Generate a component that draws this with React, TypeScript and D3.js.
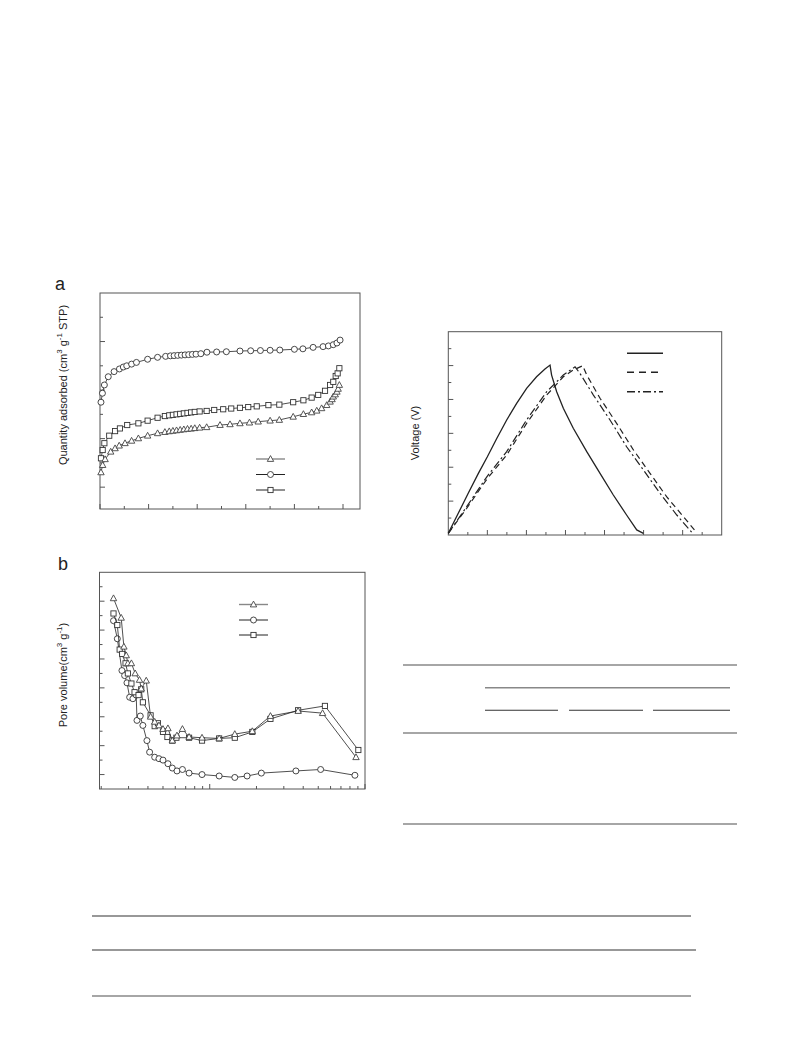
import React from "react";
import * as d3 from "d3";

// ---------- Panel a: N2 isotherms (P/P0, quantity adsorbed) ----------
const isoTriangle: [number, number][] = [
  [0.004, 161], [0.011, 191], [0.021, 215], [0.044, 246], [0.062, 260], [0.079, 271], [0.103, 281],
  [0.13, 291], [0.158, 301], [0.196, 312], [0.237, 322], [0.267, 327], [0.285, 330], [0.3, 332],
  [0.315, 334], [0.33, 336], [0.345, 338], [0.36, 340], [0.375, 341], [0.39, 343], [0.41, 345],
  [0.439, 347], [0.494, 356], [0.535, 359], [0.576, 363], [0.615, 366], [0.651, 370], [0.7, 374],
  [0.738, 377], [0.795, 390], [0.837, 401], [0.871, 408], [0.892, 415], [0.912, 425], [0.933, 438],
  [0.947, 452], [0.955, 462], [0.96, 473], [0.968, 482], [0.975, 493], [0.98, 505], [0.985, 521],
];
const isoCircle: [number, number][] = [
  [0.004, 450], [0.01, 487], [0.018, 521], [0.034, 555], [0.058, 576], [0.08, 587], [0.096, 595],
  [0.11, 600], [0.13, 607], [0.15, 614], [0.196, 627], [0.237, 635], [0.27, 639], [0.29, 641],
  [0.305, 642], [0.32, 643], [0.335, 644], [0.35, 645], [0.365, 646], [0.38, 647], [0.395, 648],
  [0.415, 650], [0.44, 656], [0.48, 657], [0.52, 658], [0.576, 661], [0.62, 662], [0.66, 663],
  [0.7, 664], [0.74, 665], [0.8, 668], [0.835, 670], [0.877, 676], [0.918, 679], [0.94, 682],
  [0.96, 687], [0.975, 694], [0.988, 706],
];
const isoSquare: [number, number][] = [
  [0.004, 219], [0.011, 253], [0.018, 281], [0.038, 312], [0.062, 331], [0.082, 342], [0.112, 356],
  [0.158, 363], [0.196, 374], [0.237, 386], [0.267, 393], [0.285, 396], [0.3, 398], [0.315, 400],
  [0.33, 402], [0.345, 404], [0.36, 406], [0.375, 408], [0.39, 410], [0.41, 412], [0.439, 414],
  [0.47, 418], [0.507, 421], [0.54, 424], [0.576, 427], [0.61, 430], [0.645, 433], [0.693, 438],
  [0.738, 440], [0.795, 450], [0.837, 458], [0.871, 469], [0.898, 480], [0.926, 497], [0.947, 521],
  [0.96, 534], [0.97, 558], [0.978, 569], [0.985, 590],
];
const isoXTicks = [0, 0.1, 0.2, 0.3, 0.4, 0.5, 0.6, 0.7, 0.8, 0.9, 1.0];
const isoYTicks = [100, 200, 300, 400, 500, 600, 700, 800];

// ---------- Panel b: pore size distribution (nm, cm3/g) ----------
const psdTriangle: [number, number][] = [
  [2.4, 0.0244], [2.69, 0.0217], [2.8, 0.0177], [2.9, 0.0165], [2.97, 0.0154], [3.13, 0.0154],
  [3.31, 0.014], [3.53, 0.0131], [3.62, 0.0119], [3.9, 0.013], [4.16, 0.008], [4.42, 0.0073],
  [4.71, 0.0068], [5.0, 0.0063], [5.38, 0.0064], [5.74, 0.0047], [6.15, 0.0054], [6.67, 0.0063],
  [7.36, 0.0052], [8.92, 0.0051], [11.5, 0.005], [14.5, 0.0056], [18.8, 0.006], [24.6, 0.0081],
  [37.1, 0.0088], [53.3, 0.0085], [87.5, 0.0024],
];
const psdCircle: [number, number][] = [
  [2.4, 0.0213], [2.54, 0.0188], [2.72, 0.0144], [2.83, 0.0137], [2.93, 0.0127], [3.05, 0.0107],
  [3.2, 0.0105], [3.36, 0.011], [3.4, 0.0075], [3.57, 0.0081], [3.71, 0.0068], [3.94, 0.0047],
  [4.1, 0.0031], [4.42, 0.0024], [4.71, 0.0022], [5.0, 0.002], [5.38, 0.0015], [5.74, 0.0009],
  [6.15, 0.0005], [6.67, 0.0007], [7.36, 0.0002], [8.92, 0.0], [11.5, -0.0002], [14.5, -0.0004],
  [17.4, -0.0002], [21.5, 0.0002], [35.9, 0.0005], [51.8, 0.0007], [86.1, -0.0001],
];
const psdSquare: [number, number][] = [
  [2.4, 0.0223], [2.54, 0.0207], [2.63, 0.0173], [2.73, 0.0167], [2.87, 0.0154], [2.97, 0.014],
  [3.13, 0.0126], [3.28, 0.0114], [3.48, 0.011], [3.62, 0.0118], [3.71, 0.01], [4.16, 0.0082],
  [4.42, 0.0067], [4.64, 0.0071], [5.0, 0.0059], [5.34, 0.0052], [5.74, 0.0047], [6.1, 0.0051],
  [7.36, 0.0051], [8.92, 0.0047], [11.5, 0.005], [14.5, 0.0051], [18.8, 0.0059], [24.6, 0.0077],
  [37.1, 0.0089], [55.2, 0.0095], [90.6, 0.0034],
];
const psdXTicks = [2, 3, 4, 5, 6, 7, 8, 9, 10, 20, 30, 40, 50, 60, 70, 80, 90, 100];
const psdXMajor = [10, 100];
const psdYTicks = [0, 0.002, 0.004, 0.006, 0.008, 0.01, 0.012, 0.014, 0.016, 0.018, 0.02, 0.022, 0.024, 0.026];

// ---------- Panel c: galvanostatic charge/discharge (s, V) ----------
const gcdSolid: [number, number][] = [
  [0, 0.01], [51, 0.128], [102, 0.246], [154, 0.364], [200, 0.462], [248, 0.57], [299, 0.679],
  [350, 0.777], [401, 0.866], [452, 0.934], [495, 0.98], [521, 1.003], [529, 0.944], [555, 0.846],
  [589, 0.748], [640, 0.63], [709, 0.492], [777, 0.364], [845, 0.236], [913, 0.118], [965, 0.03],
  [999, 0.01],
];
const gcdDashed: [number, number][] = [
  [0, 0.01], [94, 0.157], [200, 0.334], [299, 0.472], [401, 0.659], [504, 0.826], [589, 0.934],
  [640, 0.974], [688, 0.999], [709, 0.944], [777, 0.807], [862, 0.659], [948, 0.502], [1033, 0.364],
  [1118, 0.226], [1204, 0.108], [1272, 0.014],
];
const gcdDashDot: [number, number][] = [
  [0, 0.01], [94, 0.167], [200, 0.348], [299, 0.492], [401, 0.679], [504, 0.846], [589, 0.944],
  [649, 0.993], [674, 0.954], [743, 0.826], [828, 0.679], [913, 0.521], [999, 0.384], [1084, 0.246],
  [1170, 0.118], [1251, 0.01],
];
const gcdXTicks = [100, 200, 300, 400, 500, 600, 700, 800, 900, 1000, 1100, 1200, 1300];
const gcdYTicks = [0.1, 0.2, 0.3, 0.4, 0.5, 0.6, 0.7, 0.8, 0.9, 1.0, 1.1];

const FONT = "Arial, 'Liberation Sans', Helvetica, sans-serif";
const AXIS = "#555";
const INK = "#222";

type Shape = "tri" | "circ" | "sq";

function Marker({ x, y, shape, stroke = "#333" }: { x: number; y: number; shape: Shape; stroke?: string }) {
  if (shape === "circ") return <circle cx={x} cy={y} r={3} fill="#fff" stroke={stroke} strokeWidth={0.9} />;
  if (shape === "sq") return <rect x={x - 2.6} y={y - 2.6} width={5.2} height={5.2} fill="#fff" stroke={stroke} strokeWidth={0.9} />;
  return (
    <path d={`M${x},${y - 3.4} L${x + 3.2},${y + 2.4} L${x - 3.2},${y + 2.4} Z`} fill="#fff" stroke={stroke} strokeWidth={0.9} />
  );
}

function Series({ data, sx, sy, shape, lineColor = INK, markerStroke = "#333" }: any) {
  const line = d3.line<[number, number]>().x((d) => sx(d[0])).y((d) => sy(d[1]));
  return (
    <g>
      <path d={line(data) || ""} fill="none" stroke={lineColor} strokeWidth={0.8} />
      {data.map((d: [number, number], i: number) => (
        <Marker key={i} x={sx(d[0])} y={sy(d[1])} shape={shape} stroke={markerStroke} />
      ))}
    </g>
  );
}

function LegendRow({ x1, x2, y, shape, lineColor = INK, markerStroke = "#333", width = 1 }: any) {
  return (
    <g>
      <line x1={x1} x2={x2} y1={y} y2={y} stroke={lineColor} strokeWidth={width} />
      <Marker x={(x1 + x2) / 2} y={y} shape={shape} stroke={markerStroke} />
    </g>
  );
}

function Frame({ x0, x1, y0, y1 }: { x0: number; x1: number; y0: number; y1: number }) {
  return <rect x={x0} y={y0} width={x1 - x0} height={y1 - y0} fill="none" stroke={AXIS} strokeWidth={1} />;
}

export default function App() {
  // Panel a scales
  const ax = d3.scaleLinear().domain([0, 1.0]).range([100, 343]);
  const ay = d3.scaleLinear().domain([10, 900]).range([509, 293]);
  // Panel b scales
  const bx = d3.scaleLog().domain([1.95, 100]).range([99.5, 365]);
  const by = d3.scaleLinear().domain([-0.002, 0.028]).range([789, 572.3]);
  // Panel c scales
  const cx = d3.scaleLinear().domain([0, 1400]).range([448.3, 721.7]);
  const cy = d3.scaleLinear().domain([0, 1.2]).range([535, 331.7]);

  const cline = d3.line<[number, number]>().x((d) => cx(d[0])).y((d) => cy(d[1]));

  return (
    <div style={{ position: "absolute", left: 0, top: 0 }}>
      <svg width={793} height={1057} style={{ display: "block", background: "#fff" }} fontFamily={FONT}>
        {/* ---------- Panel a ---------- */}
        <text x={55} y={290} fontSize={18} fill="#222">a</text>
        <Frame x0={ax.range()[0]} x1={360} y0={293} y1={509} />
        {isoXTicks.map((t, i) => (
          <line key={i} x1={ax(t)} x2={ax(t)} y1={509} y2={509 - (i % 2 === 0 ? 5 : 3)} stroke={AXIS} />
        ))}
        {isoYTicks.map((t, i) => (
          <line key={i} x1={100} x2={100 + (i % 2 === 0 ? 5 : 3)} y1={ay(t)} y2={ay(t)} stroke={AXIS} />
        ))}
        <text transform="translate(63,385) rotate(-90)" textAnchor="middle" dominantBaseline="central" fontSize={11} fill="#222">
          Quantity adsorbed (cm<tspan dy={-4} fontSize={8}>3</tspan><tspan dy={4}> g</tspan>
          <tspan dy={-4} fontSize={8}>-1</tspan><tspan dy={4}> STP)</tspan>
        </text>
        <Series data={isoCircle} sx={ax} sy={ay} shape="circ" />
        <Series data={isoSquare} sx={ax} sy={ay} shape="sq" />
        <Series data={isoTriangle} sx={ax} sy={ay} shape="tri" markerStroke="#444" />
        <LegendRow x1={256} x2={285} y={459} shape="tri" lineColor="#888" markerStroke="#444" width={1.4} />
        <LegendRow x1={256} x2={285} y={474.5} shape="circ" />
        <LegendRow x1={256} x2={285} y={490} shape="sq" />

        {/* ---------- Panel b ---------- */}
        <text x={58} y={570} fontSize={18} fill="#222">b</text>
        <Frame x0={99.5} x1={365} y0={572.3} y1={789} />
        {psdXTicks.map((t, i) => (
          <line key={i} x1={bx(t)} x2={bx(t)} y1={789} y2={789 - (psdXMajor.includes(t) ? 5 : 3)} stroke={AXIS} />
        ))}
        {psdYTicks.map((t, i) => (
          <line key={i} x1={99.5} x2={99.5 + (i % 2 === 0 ? 5 : 3)} y1={by(t)} y2={by(t)} stroke={AXIS} />
        ))}
        <text transform="translate(63,675) rotate(-90)" textAnchor="middle" dominantBaseline="central" fontSize={11} fill="#222">
          Pore volume(cm<tspan dy={-4} fontSize={8}>3</tspan><tspan dy={4}> g</tspan>
          <tspan dy={-4} fontSize={8}>-1</tspan><tspan dy={4}>)</tspan>
        </text>
        <Series data={psdCircle} sx={bx} sy={by} shape="circ" />
        <Series data={psdSquare} sx={bx} sy={by} shape="sq" />
        <Series data={psdTriangle} sx={bx} sy={by} shape="tri" markerStroke="#444" />
        <LegendRow x1={239} x2={268} y={604.5} shape="tri" lineColor="#888" markerStroke="#444" width={1.4} />
        <LegendRow x1={239} x2={268} y={620} shape="circ" />
        <LegendRow x1={239} x2={268} y={635} shape="sq" />

        {/* ---------- Panel c ---------- */}
        <Frame x0={448.3} x1={721.7} y0={331.7} y1={535} />
        {gcdXTicks.map((t, i) => (
          <line key={i} x1={cx(t)} x2={cx(t)} y1={535} y2={535 - (i % 2 === 1 ? 5 : 3)} stroke={AXIS} />
        ))}
        {gcdYTicks.map((t, i) => (
          <line key={i} x1={448.3} x2={448.3 + (i % 2 === 1 ? 5 : 3)} y1={cy(t)} y2={cy(t)} stroke={AXIS} />
        ))}
        <text transform="translate(415,433) rotate(-90)" textAnchor="middle" dominantBaseline="central" fontSize={11} fill="#222">
          Voltage (V)
        </text>
        <path d={cline(gcdDashed) || ""} fill="none" stroke={INK} strokeWidth={1.2} strokeDasharray="6,4" />
        <path d={cline(gcdDashDot) || ""} fill="none" stroke={INK} strokeWidth={1.2} strokeDasharray="8,3,2,3" />
        <path d={cline(gcdSolid) || ""} fill="none" stroke={INK} strokeWidth={1.3} />
        <line x1={627} x2={663} y1={353.3} y2={353.3} stroke={INK} strokeWidth={1.4} />
        <line x1={627} x2={663} y1={372.3} y2={372.3} stroke={INK} strokeWidth={1.4} strokeDasharray="7,5" />
        <line x1={627} x2={663} y1={391.7} y2={391.7} stroke={INK} strokeWidth={1.4} strokeDasharray="8,3,2,3" />

        {/* ---------- Table rules (right) ---------- */}
        <line x1={403} x2={737} y1={665} y2={665} stroke="#888" strokeWidth={1.4} />
        <line x1={485} x2={730} y1={687.7} y2={687.7} stroke="#888" strokeWidth={1.4} />
        <line x1={485} x2={558} y1={710.3} y2={710.3} stroke="#333" strokeWidth={1.1} />
        <line x1={569} x2={643} y1={710.3} y2={710.3} stroke="#333" strokeWidth={1.1} />
        <line x1={653} x2={730} y1={710.3} y2={710.3} stroke="#333" strokeWidth={1.1} />
        <line x1={403} x2={737} y1={733} y2={733} stroke="#888" strokeWidth={1.4} />
        <line x1={403} x2={737} y1={824} y2={824} stroke="#888" strokeWidth={1.4} />

        {/* ---------- Table rules (bottom) ---------- */}
        <line x1={92} x2={691} y1={916} y2={916} stroke="#333" strokeWidth={1.1} />
        <line x1={92} x2={696} y1={950} y2={950} stroke="#333" strokeWidth={1.1} />
        <line x1={92} x2={691} y1={996} y2={996} stroke="#888" strokeWidth={1.6} />
      </svg>
    </div>
  );
}
